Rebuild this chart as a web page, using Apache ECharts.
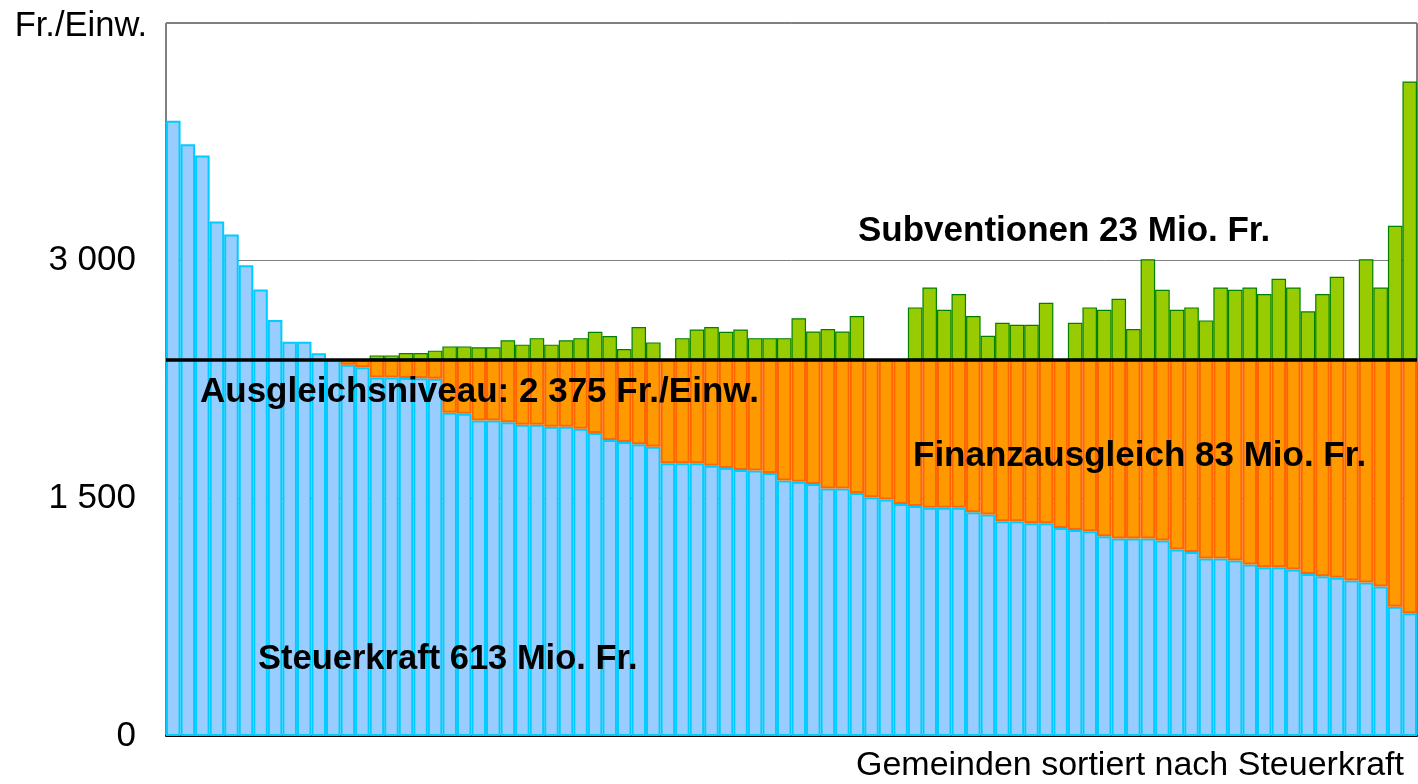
<!DOCTYPE html>
<html>
<head>
<meta charset="utf-8">
<title>Finanzausgleich</title>
<script src="https://cdn.jsdelivr.net/npm/echarts@6/dist/echarts.min.js"></script>
<style>
    html, body { margin: 0; padding: 0; background: #fff; }
    #chart { width: 1418px; height: 784px; }
</style>
</head>
<body>
<div id="chart"></div>
<script>
'use strict';

// Steuerkraft je Gemeinde (Fr./Einw.), sortiert
var steuerkraft = [
    3883, 3734, 3663, 3247, 3165, 2971, 2818, 2625, 2488, 2488, 2415, 2375,
    2343, 2328, 2263, 2262, 2260, 2258, 2255,
    2040, 2034, 1992, 1992, 1980, 1965, 1965, 1952, 1952, 1939, 1912, 1868, 1855, 1841, 1826,
    1721, 1721, 1721, 1706, 1691, 1679, 1675, 1660, 1612, 1604, 1591, 1562, 1562, 1534,
    1507, 1492, 1465, 1452, 1440, 1440, 1440, 1412, 1398, 1355, 1355, 1343, 1343, 1313, 1300,
    1292, 1261, 1246, 1246, 1246, 1234, 1177, 1162, 1120, 1120, 1107, 1082, 1065, 1065,
    1051, 1023, 1009, 998, 982, 969, 944, 815, 774
];

// Finanzausgleich bis zum Ausgleichsniveau
var finanzausgleich = [
    null, null, null, null, null, null, null, null, null, null, null, null,
    32, 47, 112, 113, 115, 117, 120,
    335, 341, 383, 383, 395, 410, 410, 423, 423, 436, 463, 507, 520, 534, 549,
    654, 654, 654, 669, 684, 696, 700, 715, 763, 771, 784, 813, 813, 841,
    868, 883, 910, 923, 935, 935, 935, 963, 977, 1020, 1020, 1032, 1032, 1062, 1075,
    1083, 1114, 1129, 1129, 1129, 1141, 1198, 1213, 1255, 1255, 1268, 1293, 1310, 1310,
    1324, 1352, 1366, 1377, 1393, 1406, 1431, 1560, 1601
];

// Subventionen oberhalb des Ausgleichsniveaus
var subventionen = [
    null, null, null, null, null, null, null, null, null, null, null, null, null, null,
    27, 27, 42, 42, 57, 84, 84, 79, 79, 122, 95, 136, 95, 122, 136, 176, 149, 67, 206, 109,
    null, 136, 191, 206, 176, 191, 136, 136, 136, 262, 178, 193, 178, 275,
    null, null, null, 330, 456, 315, 414, 275, 151, 233, 221, 221, 359,
    null, 233, 330, 315, 385, 193, 634, 441, 315, 330, 248, 456, 441, 456, 414, 511, 456,
    305, 414, 523, null, 634, 456, 845, 1756
];

var ausgleichsniveau = 2375;
var yTicks = [0, 1500, 3000];
var gemeinden = steuerkraft.map(function (v, i) {
    return 'Gemeinde ' + (i + 1);
});

var font = '"Liberation Sans", Arial, sans-serif';

function fmt(v) {
    return String(v).replace(/\B(?=(\d{3})+(?!\d))/g, ' ');
}

var chart = echarts.init(document.getElementById('chart'));

chart.setOption({
    animation: false,
    grid: {
        left: 166,
        right: 1,
        top: 23,
        bottom: 48,
        show: true,
        borderColor: '#000',
        borderWidth: 1
    },
    xAxis: {
        type: 'category',
        data: gemeinden,
        axisLine: { lineStyle: { color: '#000', width: 2 } },
        axisTick: { show: false },
        axisLabel: { show: false },
        name: 'Gemeinden sortiert nach Steuerkraft',
        nameLocation: 'end',
        nameGap: -13,
        nameTextStyle: {
            fontFamily: font,
            fontSize: 34,
            color: '#000',
            align: 'right',
            verticalAlign: 'top',
            padding: [13, 0, 0, 0]
        }
    },
    yAxis: {
        type: 'value',
        min: 0,
        max: 4500,
        interval: 1500,
        name: 'Fr./Einw.',
        nameLocation: 'end',
        nameGap: 14,
        nameTextStyle: {
            fontFamily: font,
            fontSize: 34.5,
            color: '#000',
            align: 'right',
            verticalAlign: 'top',
            padding: [0, 19, 0, 0]
        },
        axisLine: { show: false },
        axisTick: { show: false },
        axisLabel: {
            margin: 30,
            fontFamily: font,
            fontSize: 35,
            color: '#000',
            formatter: function (v) {
                return yTicks.indexOf(v) >= 0 ? fmt(v) : '';
            }
        },
        splitLine: { lineStyle: { color: '#808080', width: 1 } }
    },
    series: [
        {
            name: 'Steuerkraft',
            type: 'bar',
            stack: 'total',
            barCategoryGap: '0%',
            data: steuerkraft,
            itemStyle: { color: '#99CCFF', borderColor: '#00CCFF', borderWidth: 2 }
        },
        {
            name: 'Finanzausgleich',
            type: 'bar',
            stack: 'total',
            data: finanzausgleich,
            itemStyle: { color: '#FF9900', borderColor: '#FF6600', borderWidth: 2 }
        },
        {
            name: 'Subventionen',
            type: 'bar',
            stack: 'total',
            data: subventionen,
            itemStyle: { color: '#99CC00', borderColor: '#008000', borderWidth: 1.2 },
            markLine: {
                silent: true,
                symbol: 'none',
                label: { show: false },
                lineStyle: { color: '#000', width: 3.5, type: 'solid' },
                data: [{ yAxis: ausgleichsniveau }]
            }
        }
    ],
    graphic: [
        {
            type: 'text', left: 858, top: 214, z: 100,
            style: { text: 'Subventionen 23 Mio. Fr.', font: 'bold 35px ' + font, fill: '#000' }
        },
        {
            type: 'text', left: 200, top: 375, z: 100,
            style: { text: 'Ausgleichsniveau: ' + fmt(ausgleichsniveau) + ' Fr./Einw.', font: 'bold 35px ' + font, fill: '#000' }
        },
        {
            type: 'text', left: 913, top: 439, z: 100,
            style: { text: 'Finanzausgleich 83 Mio. Fr.', font: 'bold 35px ' + font, fill: '#000' }
        },
        {
            type: 'text', left: 258, top: 642, z: 100,
            style: { text: 'Steuerkraft 613 Mio. Fr.', font: 'bold 34.5px ' + font, fill: '#000' }
        }
    ]
});
</script>
</body>
</html>
